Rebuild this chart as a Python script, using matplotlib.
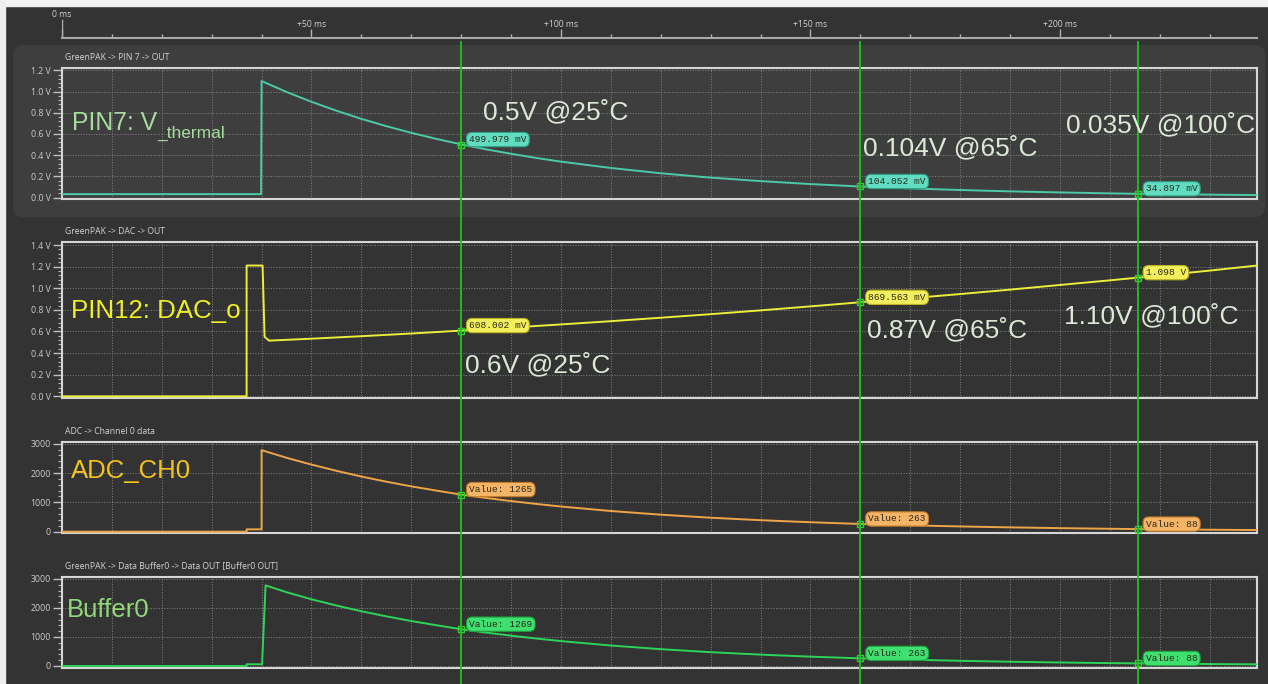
import numpy as np
import matplotlib
matplotlib.use("Agg")
import matplotlib.pyplot as plt
from matplotlib.patches import Rectangle, FancyBboxPatch
from matplotlib.lines import Line2D
from matplotlib.ticker import AutoMinorLocator, FixedLocator
import matplotlib.transforms as mtrans

# ---- data (time in ms) ----
pin7_t = [0, 39.9, 40.0, 45, 50, 55, 60, 65, 70, 75, 80, 85, 90, 95, 100,
          110, 120, 130, 140, 150, 160, 170, 180, 190, 200, 210, 215.6, 220, 230, 239.5]
pin7_v = [0.032, 0.032, 1.100, 0.997, 0.904, 0.820, 0.743, 0.674, 0.611, 0.554, 0.502,
          0.455, 0.413, 0.374, 0.339, 0.279, 0.229, 0.188, 0.155, 0.127, 0.104,
          0.086, 0.071, 0.058, 0.048, 0.039, 0.035, 0.033, 0.027, 0.023]

dac_t = [0, 37.0, 37.0, 40.2, 40.6, 41.5, 50, 60, 70, 80, 90, 100, 110, 120, 130,
         140, 150, 160, 170, 180, 190, 200, 210, 215.6, 220, 230, 239.5]
dac_v = [0, 0, 1.21, 1.21, 0.55, 0.515, 0.533, 0.556, 0.581, 0.608, 0.636, 0.665,
         0.695, 0.727, 0.760, 0.795, 0.832, 0.870, 0.907, 0.946, 0.987, 1.030,
         1.073, 1.098, 1.117, 1.163, 1.210]

adc_t = [0, 37.0, 37.0, 40.0, 40.0, 45, 50, 55, 60, 65, 70, 75, 80, 85, 90, 95, 100,
         110, 120, 130, 140, 150, 160, 170, 180, 190, 200, 210, 215.6, 220, 230, 239.5]
adc_v = [0, 0, 80, 80, 2780, 2520, 2288, 2075, 1880, 1705, 1545, 1402, 1265, 1150,
         1044, 947, 858, 705, 580, 476, 392, 322, 263, 217, 179, 147, 121, 99, 88,
         82, 67, 57]

buf_t = [0, 37.0, 37.0, 40.1, 40.8, 45, 50, 55, 60, 65, 70, 75, 80, 85, 90, 95, 100,
         110, 120, 130, 140, 150, 160, 170, 180, 190, 200, 210, 215.6, 220, 230, 239.5]
buf_v = [0, 0, 60, 60, 2780, 2545, 2300, 2085, 1888, 1712, 1551, 1406, 1269, 1152,
         1046, 948, 859, 706, 580, 476, 392, 322, 263, 217, 179, 147, 121, 99, 88,
         82, 67, 57]

cursor_t = [80, 160, 215.6]
pin7_cur = [0.499979, 0.104052, 0.034897]
dac_cur = [0.608002, 0.869563, 1.098]
adc_cur = [1265, 263, 88]
buf_cur = [1269, 263, 88]
pin7_tags = ["499.979 mV", "104.052 mV", "34.897 mV"]
dac_tags = ["608.002 mV", "869.563 mV", "1.098 V"]
adc_tags = ["Value: 1265", "Value: 263", "Value: 88"]
buf_tags = ["Value: 1269", "Value: 263", "Value: 88"]

panel_titles = ["GreenPAK -> PIN 7 -> OUT", "GreenPAK -> DAC -> OUT",
                "ADC -> Channel 0 data", "GreenPAK -> Data Buffer0 -> Data OUT [Buffer0 OUT]"]
time_ticks = [0, 50, 100, 150, 200]

W, H = 1268, 684
BG = "#333333"
UI = ["Open Sans", "DejaVu Sans"]
BIG = ["Liberation Sans", "DejaVu Sans"]
MONO = ["Liberation Mono", "DejaVu Sans Mono"]

fig = plt.figure(figsize=(W / 100, H / 100), dpi=100, facecolor=BG)


def px_axes(left, top, right, bottom):
    return fig.add_axes([left / W, 1 - bottom / H, (right - left) / W, (bottom - top) / H])


def px_text(x, y, s, **kw):
    fig.text(x / W, 1 - y / H, s, **kw)


# light window edges and the highlighted first panel
fig.patches.append(Rectangle((0, 1 - 6 / H), 1, 6 / H, transform=fig.transFigure,
                             color="#f2f2f2", zorder=-5))
fig.patches.append(Rectangle((0, 0), 5 / W, 1, transform=fig.transFigure,
                             color="#eeeeee", zorder=-5))
fig.patches.append(FancyBboxPatch((13 / 100, (H - 217) / 100), (1265 - 13) / 100, 172 / 100,
                                  boxstyle="round,pad=0,rounding_size=0.1",
                                  transform=fig.dpi_scale_trans, fc="#3e3e3e", ec="none",
                                  zorder=-4))

XMIN, XMAX = 0, 239.4

# ---- time ruler ----
tax = px_axes(62, 7, 1256.5, 37.5)
tax.set_facecolor("none")
tax.set_xlim(XMIN, XMAX)
tax.set_ylim(0, 1)
for s in ["top", "left", "right"]:
    tax.spines[s].set_visible(False)
tax.spines["bottom"].set_color("#a8a8a8")
tax.spines["bottom"].set_linewidth(1.5)
tax.set_yticks([])
tax.set_xticks(time_ticks)
tax.xaxis.set_minor_locator(FixedLocator(np.arange(0, 240, 10)))
tax.tick_params(axis="x", which="major", direction="in", length=6.5, width=1,
                color="#b0b0b0", labelbottom=False)
tax.tick_params(axis="x", which="minor", direction="in", length=3, width=1, color="#b0b0b0")
tax.axvline(0, ymin=0, ymax=0.57, color="#b0b0b0", lw=1)
for t in time_ticks:
    if t == 0:
        tax.text(t, 0.74, "0 ms", transform=tax.get_xaxis_transform(), ha="center",
                 va="center", color="#d0d0d0", fontsize=6.2, family=UI)
    else:
        tax.text(t, 0.44, f"+{t} ms", transform=tax.get_xaxis_transform(), ha="center",
                 va="center", color="#d0d0d0", fontsize=6.2, family=UI)

# ---- signal panels ----
panels = [
    dict(box=(67.7, 199.0), ylim=(-0.014, 1.226), yt=np.arange(0, 1.21, 0.2), fmt="{:.1f} V",
         t=pin7_t, v=pin7_v, cur=pin7_cur, tags=pin7_tags, color="#4cc9a8",
         tag_fc="#62dcc0", tag_ec="#2f9f85", title_y=57),
    dict(box=(242.3, 397.7), ylim=(-0.013, 1.425), yt=np.arange(0, 1.41, 0.2), fmt="{:.1f} V",
         t=dac_t, v=dac_v, cur=dac_cur, tags=dac_tags, color="#ecec3a",
         tag_fc="#f2ee5c", tag_ec="#b8b020", title_y=232),
    dict(box=(441.7, 533.3), ylim=(-55, 3068), yt=[0, 1000, 2000, 3000], fmt="{:.0f}",
         t=adc_t, v=adc_v, cur=adc_cur, tags=adc_tags, color="#eea448",
         tag_fc="#f5b466", tag_ec="#c07a28", title_y=431),
    dict(box=(576.7, 667.7), ylim=(-59, 3079), yt=[0, 1000, 2000, 3000], fmt="{:.0f}",
         t=buf_t, v=buf_v, cur=buf_cur, tags=buf_tags, color="#2ed45a",
         tag_fc="#40e070", tag_ec="#20a040", title_y=566),
]

axes = []
for i, p in enumerate(panels):
    top, bottom = p["box"]
    ax = px_axes(62, top, 1256.5, bottom)
    ax.set_facecolor("none")
    ax.set_xlim(XMIN, XMAX)
    ax.set_ylim(*p["ylim"])
    for s in ax.spines.values():
        s.set_color("#d6d6d6")
        s.set_linewidth(1.5)
    ax.set_xticks(np.arange(0, 240, 10))
    ax.tick_params(axis="x", length=0, labelbottom=False)
    ax.set_yticks(p["yt"])
    ax.set_yticklabels([p["fmt"].format(y) for y in p["yt"]])
    ax.yaxis.set_minor_locator(AutoMinorLocator(5))
    ax.tick_params(axis="y", which="major", length=6.5, width=1, color="#c0c0c0",
                   labelcolor="#cccccc", labelsize=6.3, pad=1.5)
    ax.tick_params(axis="y", which="minor", length=3, width=0.8, color="#b0b0b0")
    for lab in ax.get_yticklabels():
        lab.set_family(UI)
    ax.grid(True, which="major", color="#7c7c7c", lw=0.75, ls=(0, (1, 1.5)))
    ax.set_axisbelow(True)

    ax.plot(p["t"], p["v"], color=p["color"], lw=1.4, zorder=3, solid_joinstyle="round")
    ax.plot(cursor_t, p["cur"], ls="none", marker="s", ms=4.5, mfc="none", mec="#30d030",
            mew=1, zorder=4)
    ax.plot(cursor_t, p["cur"], ls="none", marker="+", ms=6, mec="#30d030", mew=0.8, zorder=4)
    for t, v, s in zip(cursor_t, p["cur"], p["tags"]):
        ax.annotate(s, xy=(t, v), xytext=(8, 5), textcoords="offset pixels", ha="left",
                    va="center", fontsize=6.8, family=MONO, color="#2a2a1a", zorder=6,
                    bbox=dict(boxstyle="round,pad=0.28,rounding_size=0.6", fc=p["tag_fc"],
                              ec=p["tag_ec"], lw=0.8))
    px_text(65, p["title_y"], panel_titles[i], ha="left", va="center", color="#d2d2d2",
            fontsize=6.2, family=UI)
    axes.append(ax)

# ---- cursors ----
ctrans = mtrans.blended_transform_factory(axes[0].transData, fig.transFigure)
for t in cursor_t:
    fig.add_artist(Line2D([t, t], [0, 1 - 41.7 / H], transform=ctrans, color="#22c022",
                          lw=1.3, zorder=2))

# ---- big annotations ----
note = "#dbe9d6"
px_text(71.5, 130, "PIN7: V", color="#a6dc9e", fontsize=17.8, family=BIG, va="baseline")
px_text(157.5, 137.7, "_thermal", color="#a6dc9e", fontsize=12.5, family=BIG, va="baseline")
px_text(70.6, 317.7, "PIN12: DAC_o", color="#f0f028", fontsize=18.6, family=BIG, va="baseline")
px_text(70.6, 478.3, "ADC_CH0", color="#f2c21e", fontsize=18.5, family=BIG, va="baseline")
px_text(67.3, 617.3, "Buffer0", color="#90d878", fontsize=18.5, family=BIG, va="baseline")

px_text(483, 119.5, "0.5V @25˚C", color=note, fontsize=19, family=BIG, va="baseline")
px_text(863, 155.5, "0.104V @65˚C", color=note, fontsize=19, family=BIG, va="baseline")
px_text(1066.5, 132.5, "0.035V @100˚C", color=note, fontsize=19, family=BIG, va="baseline")
px_text(465, 372.7, "0.6V @25˚C", color=note, fontsize=19, family=BIG, va="baseline")
px_text(867, 337.7, "0.87V @65˚C", color=note, fontsize=19, family=BIG, va="baseline")
px_text(1063.7, 323, "1.10V @100˚C", color=note, fontsize=19, family=BIG, va="baseline")

fig.savefig("out.png", dpi=100, facecolor=BG)
